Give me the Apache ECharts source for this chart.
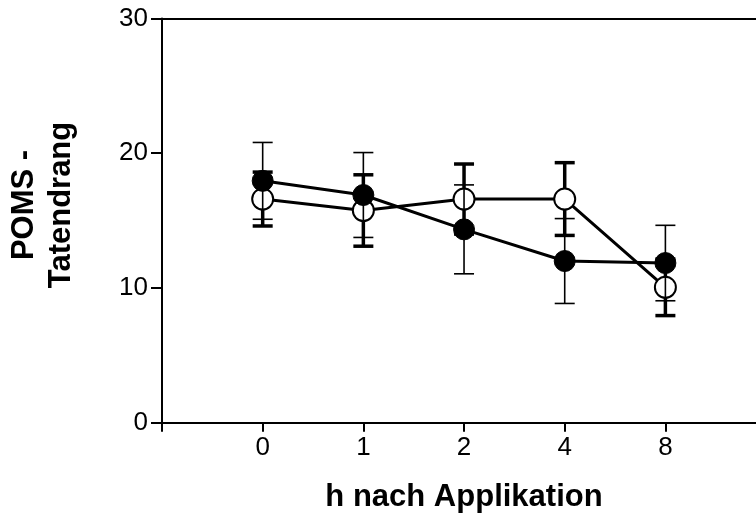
<!DOCTYPE html>
<html>
<head>
<meta charset="utf-8">
<script src="https://cdn.jsdelivr.net/npm/echarts@6/dist/echarts.min.js"></script>
<style>
  html, body { margin: 0; padding: 0; background: #fff; }
  #chart { width: 756px; height: 519px; }
</style>
</head>
<body>
<div id="chart"></div>
<script>
// h nach Applikation
var categories = ['0', '1', '2', '4', '8'];
// gefüllte Kreise (Mittelwert, Fehler)
var filledMean = [17.95, 16.9, 14.35, 12.0, 11.85];
var filledErr = [2.85, 3.15, 3.3, 3.15, 2.8];
// offene Kreise
var openMean = [16.6, 15.75, 16.6, 16.6, 10.05];
var openErr = [2.0, 2.65, 2.6, 2.7, 2.1];
var yTicks = [0, 10, 20, 30];

var FONT = '"Liberation Sans", Arial, Helvetica, sans-serif';
// x-Bereich: eine leere Kategorie links, rechts über den Rand hinaus
var X_MIN = -1, X_MAX = 4.9;

function points(arr) {
  return arr.map(function (v, i) { return [i, v]; });
}
function errPoints(mean, err) {
  return mean.map(function (v, i) { return [i, v, err[i]]; });
}

function errorSeries(data, width, z) {
  return {
    type: 'custom',
    z: z,
    silent: true,
    clip: false,
    data: data,
    renderItem: function (params, api) {
      var x = api.value(0), m = api.value(1), e = api.value(2);
      var hi = api.coord([x, m + e]);
      var lo = api.coord([x, m - e]);
      var cap = 10;
      var st = { stroke: '#000', lineWidth: width };
      return {
        type: 'group',
        children: [
          { type: 'line', shape: { x1: hi[0], y1: hi[1], x2: lo[0], y2: lo[1] }, style: st },
          { type: 'line', shape: { x1: hi[0] - cap, y1: hi[1], x2: hi[0] + cap, y2: hi[1] }, style: st },
          { type: 'line', shape: { x1: lo[0] - cap, y1: lo[1], x2: lo[0] + cap, y2: lo[1] }, style: st }
        ]
      };
    }
  };
}

var chart = echarts.init(document.getElementById('chart'));
chart.setOption({
  animation: false,
  textStyle: { fontFamily: FONT },
  grid: { left: 162, top: 18.5, right: 0, height: 404.2 },
  xAxis: [
    {
      type: 'value',
      min: X_MIN, max: X_MAX, interval: 1,
      splitLine: { show: false },
      axisLine: { onZero: false, lineStyle: { color: '#000', width: 2 } },
      axisTick: { length: 9, lineStyle: { color: '#000', width: 2 } },
      axisLabel: {
        color: '#000', fontSize: 26, fontFamily: FONT, margin: 12,
        showMaxLabel: false,
        formatter: function (v) { return categories[v] !== undefined ? categories[v] : ''; }
      }
    },
    {
      type: 'value', position: 'top',
      min: X_MIN, max: X_MAX,
      splitLine: { show: false },
      axisLine: { onZero: false, lineStyle: { color: '#000', width: 2 } },
      axisTick: { show: false },
      axisLabel: { show: false }
    }
  ],
  yAxis: {
    type: 'value',
    min: yTicks[0], max: yTicks[yTicks.length - 1], interval: 10,
    splitLine: { show: false },
    axisLine: { onZero: false, lineStyle: { color: '#000', width: 2 } },
    axisTick: { length: 11, lineStyle: { color: '#000', width: 2 } },
    axisLabel: { color: '#000', fontSize: 26, fontFamily: FONT, margin: 14 }
  },
  graphic: [
    {
      type: 'text', x: 464, y: 497,
      style: {
        text: 'h nach Applikation', fill: '#000',
        font: 'bold 31px ' + FONT, textAlign: 'center', textVerticalAlign: 'middle'
      }
    },
    {
      type: 'text', x: 43, y: 205, rotation: Math.PI / 2,
      style: {
        text: 'POMS -\nTatendrang', fill: '#000', lineHeight: 37,
        font: 'bold 31px ' + FONT, textAlign: 'center', textVerticalAlign: 'middle'
      }
    }
  ],
  series: [
    errorSeries(errPoints(openMean, openErr), 3.5, 2),
    {
      type: 'line', z: 3, data: points(openMean),
      symbol: 'circle', symbolSize: 21,
      lineStyle: { color: '#000', width: 3 },
      itemStyle: { color: '#fff', borderColor: '#000', borderWidth: 2 }
    },
    errorSeries(errPoints(filledMean, filledErr), 1.6, 4),
    {
      type: 'line', z: 5, data: points(filledMean),
      symbol: 'circle', symbolSize: 21,
      lineStyle: { color: '#000', width: 3 },
      itemStyle: { color: '#000', borderColor: '#000', borderWidth: 1 }
    }
  ]
});
</script>
</body>
</html>
